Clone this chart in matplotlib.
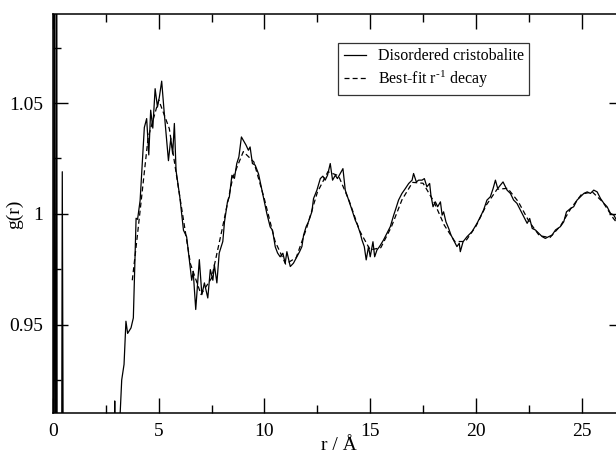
import matplotlib
matplotlib.use("Agg")
import matplotlib.pyplot as plt
from matplotlib.ticker import MultipleLocator

plt.rcParams['font.family'] = ['Liberation Serif', 'DejaVu Serif']
plt.rcParams['mathtext.fontset'] = 'custom'
plt.rcParams['mathtext.rm'] = 'Liberation Serif'
plt.rcParams['mathtext.it'] = 'Liberation Serif:italic'

# simulated g(r)
r_sim = [0.0, 0.06, 0.12, 0.17, 0.22, 0.35, 0.44, 0.58, 1.5, 2.85, 2.92, 2.98, 3.08,
         3.25, 3.36, 3.45, 3.53, 3.69, 3.80, 3.93, 4.0, 4.12, 4.32, 4.43, 4.53, 4.62,
         4.72, 4.83, 4.94, 5.03, 5.14, 5.25, 5.46, 5.57, 5.66, 5.74, 5.82, 6.0, 6.17,
         6.32, 6.56, 6.63, 6.75, 6.92, 7.04, 7.16, 7.32, 7.44, 7.56, 7.63, 7.75, 7.86,
         8.03, 8.11, 8.25, 8.34, 8.46, 8.58, 8.69, 8.79, 8.91, 9.04, 9.13, 9.24, 9.32,
         9.43, 9.56, 9.72, 9.88, 10.11, 10.27, 10.38, 10.51, 10.62, 10.74, 10.87, 10.98,
         11.06, 11.22, 11.37, 11.53, 11.66, 11.77, 11.85, 11.97, 12.08, 12.24, 12.32,
         12.48, 12.64, 12.76, 12.87, 12.98, 13.11, 13.22, 13.35, 13.45, 13.58, 13.71,
         13.82, 13.98, 14.14, 14.29, 14.40, 14.53, 14.61, 14.72, 14.81, 14.92, 15.00,
         15.13, 15.21, 15.32, 15.44, 15.63, 15.79, 15.95, 16.11, 16.19, 16.34, 16.50,
         16.66, 16.82, 16.98, 17.05, 17.18, 17.29, 17.45, 17.56, 17.68, 17.81, 17.87,
         17.97, 18.08, 18.19, 18.32, 18.40, 18.47, 18.58, 18.71, 18.82, 18.94, 19.10,
         19.21, 19.26, 19.39, 19.58, 19.81, 20.05, 20.21, 20.36, 20.52, 20.68, 20.81,
         20.92, 21.03, 21.15, 21.28, 21.47, 21.63, 21.78, 21.94, 22.10, 22.26, 22.42,
         22.54, 22.66, 22.81, 22.97, 23.13, 23.28, 23.44, 23.60, 23.76, 23.99, 24.15,
         24.28, 24.47, 24.62, 24.78, 24.94, 25.10, 25.26, 25.41, 25.57, 25.73, 25.89,
         26.05, 26.20, 26.36, 26.52, 26.64, 26.8, 27.0]
g_sim = [0.5, 1.3, 0.6, 1.3, 0.5, 0.6, 1.019, 0.6, 0.7, 0.85, 0.9155, 0.85, 0.89,
         0.925, 0.932, 0.9515, 0.946, 0.9485, 0.953, 0.998, 0.9975, 1.006, 1.039, 1.043,
         1.0266, 1.0468, 1.0387, 1.0565, 1.0482, 1.0527, 1.0599, 1.0468, 1.024, 1.034,
         1.027, 1.0408, 1.0195, 1.0074, 0.9926, 0.9896, 0.970, 0.974, 0.9568, 0.9793,
         0.9635, 0.9688, 0.962, 0.9748, 0.970, 0.977, 0.9688, 0.9823, 0.9875, 0.9964,
         1.0054, 1.0077, 1.0174, 1.016, 1.0227, 1.0257, 1.0347, 1.0325, 1.031, 1.0287,
         1.0302, 1.0227, 1.022, 1.018, 1.0107, 1.0002, 0.9941, 0.9926, 0.9851, 0.9823,
         0.9806, 0.9822, 0.9777, 0.9829, 0.9762, 0.9777, 0.9806, 0.9829, 0.9852, 0.9904,
         0.9942, 0.9964, 1.0009, 1.0069, 1.0107, 1.0159, 1.0170, 1.0152, 1.0174, 1.0227,
         1.0152, 1.0174, 1.0159, 1.0182, 1.0204, 1.0107, 1.0062, 1.0017, 0.9972, 0.9949,
         0.9912, 0.9882, 0.9852, 0.9792, 0.9852, 0.9806, 0.9874, 0.9806, 0.9837, 0.9852,
         0.9882, 0.9912, 0.9942, 0.9994, 1.0017, 1.0062, 1.0092, 1.0114, 1.0137, 1.0152,
         1.0182, 1.0144, 1.0152, 1.0152, 1.0159, 1.0122, 1.0137, 1.0084, 1.0032, 1.0054,
         1.0032, 1.0054, 0.9994, 1.0009, 0.9964, 0.9934, 0.9904, 0.9882, 0.9852, 0.9867,
         0.9829, 0.9874, 0.9897, 0.9919, 0.9957, 0.9987, 1.0017, 1.0062, 1.0077, 1.0114,
         1.0152, 1.0114, 1.0129, 1.0144, 1.0107, 1.0092, 1.0062, 1.0047, 1.0017, 0.9987,
         0.9957, 0.9979, 0.9934, 0.9927, 0.9912, 0.9897, 0.9889, 0.9897, 0.9904, 0.9927,
         0.9942, 0.9964, 1.0009, 1.0024, 1.0032, 1.0062, 1.0077, 1.0092, 1.0099, 1.0092,
         1.0107, 1.0099, 1.0069, 1.0047, 1.0032, 1.0002, 0.9994, 0.9972, 0.998, 0.997]

# best-fit decay curve
r_fit = [3.75, 4.0, 4.5, 5.0, 5.5, 6.0, 6.5, 7.0, 7.5, 8.0, 8.5, 9.0, 9.5, 10.0, 10.5,
         11.0, 11.5, 12.0, 12.5, 13.0, 13.5, 14.0, 14.5, 15.0, 15.5, 16.0, 16.5, 17.0,
         17.5, 18.0, 18.5, 19.0, 19.5, 20.0, 20.5, 21.0, 21.5, 22.0, 22.5, 23.0, 23.5,
         24.0, 24.5, 25.0, 25.5, 26.0, 26.5, 27.0]
g_fit = [0.970, 0.991, 1.0345, 1.0514, 1.0385, 1.0075, 0.9774, 0.9636, 0.971, 0.9931,
         1.0163, 1.0281, 1.0234, 1.0065, 0.9876, 0.9773, 0.9802, 0.9938, 1.0097, 1.019,
         1.0172, 1.006, 0.9923, 0.9837, 0.9847, 0.9941, 1.0063, 1.0142, 1.0138, 1.0057,
         0.9949, 0.9875, 0.9875, 0.9944, 1.0041, 1.0111, 1.0115, 1.0055, 0.9967, 0.9901,
         0.9893, 0.9946, 1.0026, 1.0089, 1.0099, 1.0053, 0.9979, 0.992]

fig = plt.figure(figsize=(6.16, 4.53), dpi=100)
ax = fig.add_axes([0.086, 0.088, 0.927, 0.880])

ax.plot(r_sim, g_sim, color='black', lw=0.9, label='Disordered cristobalite')
ax.plot(r_fit, g_fit, color='black', lw=0.9, ls=(0, (4, 2.5)),
        label='Best-fit r$^{\\mathrm{\u2010}1}$ decay')

ax.set_xlim(0, 27)
ax.set_ylim(0.91, 1.09)
ax.xaxis.set_major_locator(MultipleLocator(5))
ax.xaxis.set_minor_locator(MultipleLocator(2.5))
ax.yaxis.set_minor_locator(MultipleLocator(0.025))
ax.set_yticks([0.95, 1.0, 1.05])
ax.set_yticklabels(['0.95', '1', '1.05'])
ax.tick_params(which='both', direction='in', top=True, right=True, labelsize=14, pad=7)
ax.tick_params(which='major', length=11, width=1)
ax.tick_params(which='minor', length=6, width=1)
for s in ax.spines.values():
    s.set_linewidth(1.1)

ax.set_xlabel('r / Å', fontsize=14, labelpad=-2)
ax.set_ylabel('g(r)', fontsize=14)
ax.yaxis.set_label_coords(-0.053, 0.5)

leg = ax.legend(loc='upper left', bbox_to_anchor=(0.499, 0.929), fontsize=11.5,
                frameon=True, fancybox=False, handlelength=1.4, handletextpad=0.75,
                borderpad=0.35, labelspacing=0.25, borderaxespad=0)
leg.get_frame().set_edgecolor('black')
leg.get_frame().set_linewidth(0.9)

fig.savefig('out.png', dpi=100)
